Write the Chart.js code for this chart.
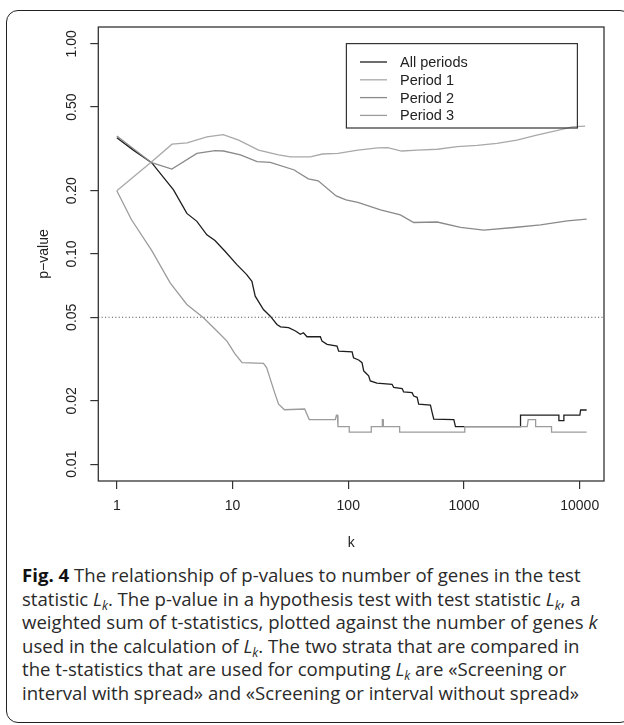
<!DOCTYPE html>
<html>
<head>
<meta charset="utf-8">
<title>Fig. 4</title>
<script src="https://cdn.jsdelivr.net/npm/chart.js@4.4.1/dist/chart.umd.min.js"></script>
<style>
html, body { margin: 0; padding: 0; background: #fff; overflow: hidden; }
body { width: 624px; height: 725px; position: relative; }
#frame { position: absolute; left: 6px; top: 10px; width: 626px; height: 713px; border: 1.5px solid #222; border-radius: 12px; box-sizing: border-box; }
#pvalChart { position: absolute; left: 0; top: 0; }
#caption { position: absolute; left: 22px; top: 563px; font-family: "Open Sans", Lato, sans-serif; font-size: 18.6px; line-height: 23.6px; color: #2a2a2a; white-space: nowrap; }
#caption b { color: #111; }
#caption sub { font-size: 0.65em; line-height: 0; vertical-align: -0.3em; }
</style>
</head>
<body>
<div id="frame"></div>
<canvas id="pvalChart" width="624" height="560"></canvas>
<div id="caption">
<b>Fig. 4</b> The relationship of p-values to number of genes in the test<br>
statistic <i>L<sub>k</sub></i>. The p-value in a hypothesis test with test statistic <i>L<sub>k</sub></i>, a<br>
weighted sum of t-statistics, plotted against the number of genes <i>k</i><br>
used in the calculation of <i>L<sub>k</sub></i>. The two strata that are compared in<br>
the t-statistics that are used for computing <i>L<sub>k</sub></i> are «Screening or<br>
interval with spread» and «Screening or interval without spread»
</div>
<script>
// Axis ticks
const xTicks = [1, 10, 100, 1000, 10000];
const xTickLabels = ['1', '10', '100', '1000', '10000'];
const yTicks = [0.01, 0.02, 0.05, 0.10, 0.20, 0.50, 1.00];
const yTickLabels = ['0.01', '0.02', '0.05', '0.10', '0.20', '0.50', '1.00'];
const cutoff = 0.05;

// All periods
const kAll = [1, 1.39, 2, 3.09, 4.03, 4.92, 6.0, 7.05, 8.65, 10.9, 13.2, 14.7, 15.7, 18.5, 21.2, 24.2, 26, 30.5, 35,
  38.5, 41, 44, 57.4, 59.3, 65.6, 80, 82.6, 108, 111, 123, 131.5, 136, 140.5, 150, 155, 177, 239, 247, 292, 301,
  356, 368, 394, 406, 513, 531, 548, 817, 844, 3080, 3080, 6610, 6610, 7300, 7300, 10040, 10180, 11480];
const pAll = [0.357, 0.312, 0.272, 0.2017, 0.156, 0.143, 0.1234, 0.116, 0.1028, 0.089, 0.08, 0.0742, 0.063, 0.0544, 0.0506, 0.0462, 0.045, 0.0446, 0.043,
  0.0415, 0.0422, 0.0404, 0.0404, 0.0385, 0.0372, 0.0365, 0.0345, 0.0342, 0.0321, 0.0313, 0.0304, 0.0278, 0.0273, 0.0263, 0.0249, 0.0243, 0.024, 0.0232, 0.0229, 0.0221,
  0.0219, 0.0211, 0.0208, 0.0193, 0.0191, 0.0176, 0.0164, 0.0163, 0.0151, 0.0151, 0.0171, 0.0171, 0.0161, 0.0161, 0.0171, 0.0171, 0.0181, 0.0181];

// Period 1
const kP1 = [1, 2, 3.0, 4.05, 6.0, 8.3, 11.3, 16.8, 25, 31.7, 47, 59.6, 81.7, 121, 180, 219, 289, 397, 589, 875,
  1300, 1930, 2865, 4250, 6310, 8650, 11150];
const pP1 = [0.2, 0.275, 0.333, 0.338, 0.361, 0.370, 0.348, 0.312, 0.296, 0.290, 0.290, 0.299, 0.301, 0.312, 0.320, 0.321, 0.309, 0.312, 0.315, 0.324,
  0.329, 0.336, 0.348, 0.368, 0.386, 0.403, 0.406];

// Period 2
const kP2 = [1, 2, 2.99, 4.92, 7.05, 8.36, 11.7, 16.3, 21.2, 34.2, 36, 45.2, 55, 78.6, 95.7, 121, 190, 282, 368, 586,
  933, 1484, 2700, 4590, 7810, 11480];
const pP2 = [0.364, 0.272, 0.2535, 0.301, 0.310, 0.309, 0.296, 0.275, 0.273, 0.251, 0.246, 0.228, 0.223, 0.189, 0.181, 0.176, 0.162, 0.1535, 0.1412, 0.142,
  0.134, 0.130, 0.1337, 0.1377, 0.1438, 0.1465];

// Period 3
const kP3 = [1, 1.34, 2, 2.89, 4.03, 5.61, 7.33, 8.95, 10.5, 12.1, 18.5, 19.7, 21.2, 23.1, 25, 28.1, 42, 46, 77.3, 79, 80.5, 81.5,
  102, 102, 158, 158, 196, 197, 200, 201, 278, 278, 1016, 1016, 3520, 3590, 4160, 4160, 5710, 5710, 11480];
const pP3 = [0.2, 0.1455, 0.104, 0.0729, 0.0575, 0.0497, 0.043, 0.0385, 0.0335, 0.0304, 0.0302, 0.0288, 0.0254, 0.0219, 0.0193, 0.01815, 0.0183, 0.0163, 0.0163, 0.0171, 0.0171, 0.0151,
  0.0151, 0.0142, 0.0142, 0.0151, 0.0151, 0.0163, 0.0163, 0.0151, 0.0151, 0.0142, 0.0142, 0.0151, 0.0151, 0.0163, 0.0163, 0.0151, 0.0151, 0.0142, 0.0142];

const seriesNames = ['All periods', 'Period 1', 'Period 2', 'Period 3'];
const seriesColors = ['#1e1e1e', '#a9a9a9', '#8a8a8a', '#9c9c9c'];

const axisFont = '14px "Liberation Sans", Arial, sans-serif';

function toPoints(ks, ps) {
    return ks.map((k, i) => ({x: k, y: ps[i]}));
}

// R-like decorations: box, dotted cutoff, rotated y labels, titles, legend
const rPlotDecor = {
    id: 'rPlotDecor',
    beforeDatasetsDraw(chart) {
        const {ctx, chartArea: a, scales} = chart;
        const yy = scales.y.getPixelForValue(cutoff);
        ctx.save();
        ctx.strokeStyle = '#444';
        ctx.lineWidth = 1;
        ctx.setLineDash([1, 2.4]);
        ctx.beginPath();
        ctx.moveTo(a.left, yy);
        ctx.lineTo(a.right, yy);
        ctx.stroke();
        ctx.restore();
    },
    afterDraw(chart) {
        const {ctx, chartArea: a, scales} = chart;
        ctx.save();

        // plot box
        ctx.strokeStyle = '#333';
        ctx.lineWidth = 1.3;
        ctx.strokeRect(a.left, a.top, a.right - a.left, a.bottom - a.top);

        // y tick labels, parallel to the axis
        ctx.fillStyle = '#222';
        ctx.font = axisFont;
        ctx.textAlign = 'center';
        ctx.textBaseline = 'middle';
        yTicks.forEach((v, i) => {
            const py = scales.y.getPixelForValue(v);
            ctx.save();
            ctx.translate(a.left - 26, py);
            ctx.rotate(-Math.PI / 2);
            ctx.fillText(yTickLabels[i], 0, 0);
            ctx.restore();
        });

        // axis titles
        ctx.save();
        ctx.translate(a.left - 54, (a.top + a.bottom) / 2);
        ctx.rotate(-Math.PI / 2);
        ctx.fillText('p\u2212value', 0, 0);
        ctx.restore();
        ctx.fillText('k', (a.left + a.right) / 2, a.bottom + 62);

        // legend
        const lx = a.right - 257.6, ly = a.top + 16.6;
        ctx.strokeStyle = '#333';
        ctx.lineWidth = 1.2;
        ctx.strokeRect(lx, ly, 231, 84.4);
        ctx.font = '14.5px "Liberation Sans", Arial, sans-serif';
        ctx.textAlign = 'left';
        seriesNames.forEach((name, i) => {
            const ry = ly + 18.4 + i * 17.8;
            ctx.strokeStyle = seriesColors[i];
            ctx.lineWidth = 1.3;
            ctx.beginPath();
            ctx.moveTo(lx + 13.6, ry);
            ctx.lineTo(lx + 40.6, ry);
            ctx.stroke();
            ctx.fillStyle = '#222';
            ctx.fillText(name, lx + 53.6, ry + 1);
        });
        ctx.restore();
    }
};

document.addEventListener('DOMContentLoaded', function() {
    const canvas = document.getElementById('pvalChart');
    const allSeries = [[kAll, pAll], [kP1, pP1], [kP2, pP2], [kP3, pP3]];

    new Chart(canvas, {
        type: 'line',
        data: {
            datasets: allSeries.map((s, i) => ({
                label: seriesNames[i],
                data: toPoints(s[0], s[1]),
                borderColor: seriesColors[i],
                borderWidth: 1.3,
                pointRadius: 0,
                tension: 0,
                fill: false,
                order: i === 0 ? 10 : 4 - i
            }))
        },
        options: {
            responsive: false,
            animation: false,
            layout: {padding: {top: 27, right: 20, left: 0, bottom: 0}},
            plugins: {
                legend: {display: false},
                tooltip: {enabled: false}
            },
            scales: {
                x: {
                    type: 'logarithmic',
                    min: Math.pow(10, -0.16),
                    max: Math.pow(10, 4.21),
                    afterBuildTicks: (scale) => { scale.ticks = xTicks.map(v => ({value: v})); },
                    afterFit: (scale) => { scale.height = 79; },
                    grid: {drawOnChartArea: false, drawTicks: true, tickLength: 8, color: '#333', lineWidth: 1.2},
                    border: {display: false},
                    ticks: {
                        autoSkip: false,
                        maxRotation: 0,
                        padding: 9,
                        color: '#222',
                        font: {family: '"Liberation Sans", Arial, sans-serif', size: 14},
                        callback: (v) => xTickLabels[xTicks.indexOf(v)]
                    }
                },
                y: {
                    type: 'logarithmic',
                    min: Math.pow(10, -2.08),
                    max: Math.pow(10, 0.08),
                    afterBuildTicks: (scale) => { scale.ticks = yTicks.map(v => ({value: v})); },
                    afterFit: (scale) => { scale.width = 98.3; },
                    grid: {drawOnChartArea: false, drawTicks: true, tickLength: 8, color: '#333', lineWidth: 1.2},
                    border: {display: false},
                    ticks: {display: false}
                }
            }
        },
        plugins: [rPlotDecor]
    });
});
</script>
</body>
</html>
